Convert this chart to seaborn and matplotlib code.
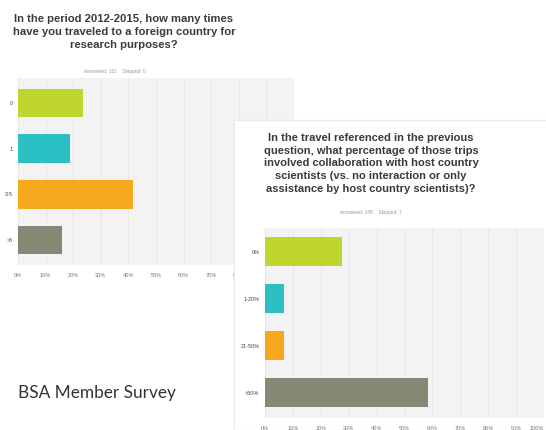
import matplotlib
matplotlib.use("Agg")
import matplotlib.pyplot as plt
from matplotlib.patches import Rectangle
import seaborn as sns

# survey question 1: trips abroad 2012-2015
trips_labels = ["0", "1", "2-5", ">5"]
trips_pct = [23.5, 18.9, 41.7, 15.9]

# survey question 2: share of trips with collaboration
collab_labels = ["0%", "1-20%", "21-50%", ">50%"]
collab_pct = [27.6, 6.9, 6.9, 58.6]

bar_colors = ["#bfd630", "#2cbfc3", "#f7a81c", "#878775"]
pct_ticks = list(range(0, 101, 10))
pct_ticklabels = [f"{t}%" for t in pct_ticks]

title_1 = "In the period 2012-2015, how many times\nhave you traveled to a foreign country for\nresearch purposes?"
title_2 = ("In the travel referenced in the previous\nquestion, what percentage of those trips\n"
           "involved collaboration with host country\nscientists (vs. no interaction or only\n"
           "assistance by host country scientists)?")

sns.set_theme(style="white")
plt.rcParams["font.family"] = ["Liberation Sans", "DejaVu Sans"]

W, H = 546, 430
fig = plt.figure(figsize=(W / 100, H / 100), dpi=100)


def px_axes(left, top, right, bottom):
    return fig.add_axes([left / W, 1 - bottom / H, (right - left) / W, (bottom - top) / H])


def survey_bars(ax, labels, values, ylim):
    sns.barplot(x=values, y=labels, hue=labels, palette=bar_colors, legend=False,
                width=0.63, saturation=1, linewidth=0, ax=ax, zorder=2)
    ax.set_facecolor("#f3f3f3")
    ax.set_xlim(0, 100)
    ax.set_ylim(*ylim)
    ax.set_xticks(pct_ticks)
    ax.set_xticklabels(pct_ticklabels)
    ax.grid(axis="x", color="#e4e4e4", linewidth=0.6, zorder=0)
    ax.grid(axis="y", visible=False)
    ax.set_axisbelow(True)
    ax.set_xlabel("")
    ax.set_ylabel("")
    ax.tick_params(length=0, pad=4)
    ax.tick_params(axis="x", labelsize=4, labelcolor="#7a7a7a", pad=6)
    ax.tick_params(axis="y", labelsize=4, labelcolor="#444444")
    for s in ax.spines.values():
        s.set_visible(False)


# chart 1 (behind)
ax1 = px_axes(18, 78, 294, 265)
survey_bars(ax1, trips_labels, trips_pct, (3.55, -0.55))
ax1.set_zorder(0)
fig.text(124 / W, 1 - 32 / H, title_1, ha="center", va="center", fontsize=8.1,
         fontweight="bold", color="#3a3a3a", linespacing=1.42, zorder=0.5)
fig.text(115 / W, 1 - 71 / H, "Answered: 152    Skipped: 0", ha="center", va="center",
         fontsize=3.5, color="#999999", zorder=0.5)

# white panel for chart 2
fig.patches.append(Rectangle((234 / W, 0), 1, 1 - 120 / H, transform=fig.transFigure,
                             facecolor="white", edgecolor="#ececec", linewidth=0.8,
                             zorder=1))

# chart 2 (front)
ax2 = px_axes(265, 228, 544, 418)
survey_bars(ax2, collab_labels, collab_pct, (3.54, -0.5))
ax2.set_zorder(2)
ax2.get_xticklabels()[-1].set_ha("right")
fig.text(371 / W, 1 - 163.5 / H, title_2, ha="center", va="center", fontsize=8.0,
         fontweight="bold", color="#3a3a3a", linespacing=1.36, zorder=3)
fig.text(371 / W, 1 - 212 / H, "Answered: 145    Skipped: 7", ha="center", va="center",
         fontsize=3.5, color="#999999", zorder=3)

fig.text(18 / W, 1 - 393 / H, "BSA Member Survey", ha="left", va="center",
         fontsize=12.4, color="#333333", family=["Lato", "DejaVu Sans"], zorder=3)

fig.savefig("out.png", dpi=100)
